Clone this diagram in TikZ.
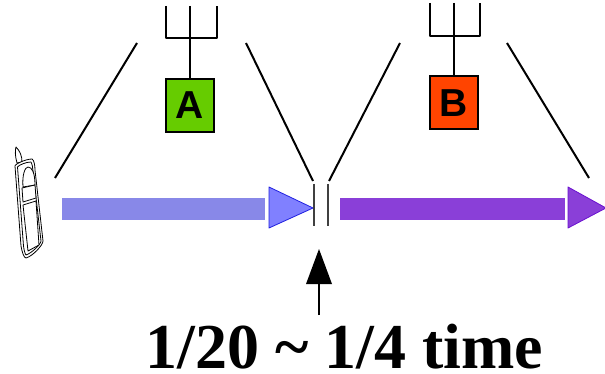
\documentclass[tikz,border=0pt]{standalone}
\usepackage{fontspec}
\setmainfont{Liberation Serif}
\newfontfamily\labelsans{Liberation Sans}
\tikzset{
  x=1pt,y=-1pt,
  wire/.style={draw=black,line width=2pt},
  thin wire/.style={draw=black!75,line width=1.2pt},
  station/.style={draw=black,line width=2pt,minimum width=48pt,minimum height=53pt,inner sep=0pt,font=\labelsans\bfseries\fontsize{39}{39}\selectfont},
  phone/.style={draw=black,line width=.8pt,fill=white,line join=round},
}
\definecolor{blueBar}{HTML}{8888E8}
\definecolor{blueTip}{HTML}{8080FF}
\definecolor{blueEdge}{HTML}{2020E0}
\definecolor{purpleBar}{HTML}{8A3FD8}
\definecolor{purpleEdge}{HTML}{6A10D0}
\definecolor{greenBox}{HTML}{66CC00}
\definecolor{redBox}{HTML}{FF4400}
\begin{document}
\begin{tikzpicture}
\useasboundingbox (0,0) rectangle (605,374);
% stations
\node[station,fill=greenBox] (A) at (190,105.5) {A};
\node[station,fill=redBox] (B) at (453.5,103) {B};
% antennas
\coordinate (a1) at (166,6); \coordinate (a2) at (190,6); \coordinate (a3) at (217,6);
\draw[wire,line join=round] (a1) -- (166,38) -- (217,38) -- (a3);
\draw[wire] (a2) -- (A.north);
\coordinate (b1) at (430,3); \coordinate (b2) at (454,3); \coordinate (b3) at (480,3);
\draw[wire,line join=round] (b1) -- (430,36) -- (480,36) -- (b3);
\draw[wire] (b2) -- (B.north -| b2);
% coverage lines
\coordinate (l1) at (55,178); \coordinate (l2) at (137,43);
\coordinate (l3) at (246,43); \coordinate (l4) at (313,181);
\coordinate (l5) at (329,181); \coordinate (l6) at (400,43);
\coordinate (l7) at (507,43); \coordinate (l8) at (589,178);
\draw[wire] (l1) -- (l2);
\draw[wire] (l3) -- (l4);
\draw[wire] (l5) -- (l6);
\draw[wire] (l7) -- (l8);
% bars
\fill[blueBar] (62,198) rectangle (265,220);
\draw[fill=blueTip,draw=blueEdge,line width=.8pt,line join=round] (269,187) -- (313,208) -- (269,228) -- cycle;
\fill[purpleBar] (340,198) rectangle (565,220);
\draw[fill=purpleBar,draw=purpleEdge,line width=.8pt,line join=round] (568,187) -- (606,208) -- (568,228) -- cycle;
% gap marks
\coordinate (g1) at (314,184); \coordinate (g2) at (314,226);
\coordinate (g3) at (328,184); \coordinate (g4) at (328,226);
\draw[thin wire] (g1) -- (g2);
\draw[thin wire] (g3) -- (g4);
% arrow
\coordinate (t0) at (319,315); \coordinate (t1) at (319,284);
\draw[black,line width=2.4pt] (t0) -- (t1);
\fill[black] (319,249) -- (332,284) -- (306,284) -- cycle;
% label
\node[anchor=base,inner sep=0pt,font=\bfseries\fontsize{64}{64}\selectfont] (T) at (344.5,368) {1/20 \textasciitilde{} 1/4 time};
% phone
\draw[phone] (17,163) .. controls (15,156) and (15,150) .. (16,147) .. controls (20,151) and (22,156) .. (22,162) -- cycle;
\draw[phone] (15,166) .. controls (15,164) and (26,159) .. (32,159) .. controls (34,160) and (35,165) .. (35,170) -- (43,241) .. controls (43,245) and (33,256) .. (26,258) .. controls (24,258) and (22,252) .. (21,246) -- cycle;
\draw[phone] (17.5,167) .. controls (19,165) and (26,162) .. (31,162) .. controls (32,164) and (33,168) .. (33,171) -- (41,241) .. controls (41,244) and (32,253) .. (26,255) .. controls (25,254) and (24,250) .. (23.5,246) -- cycle;
\draw[phone] (23,187) .. controls (22,175) and (25,167) .. (28,167) .. controls (32,167) and (35,173) .. (35,185) -- cycle;
\draw[phone] (22,188) -- (35,185) -- (36,198) -- (23,202) -- cycle;
\draw[phone] (23,205) -- (36,201) -- (39,245) -- (28,251) -- cycle;
\end{tikzpicture}
\end{document}
